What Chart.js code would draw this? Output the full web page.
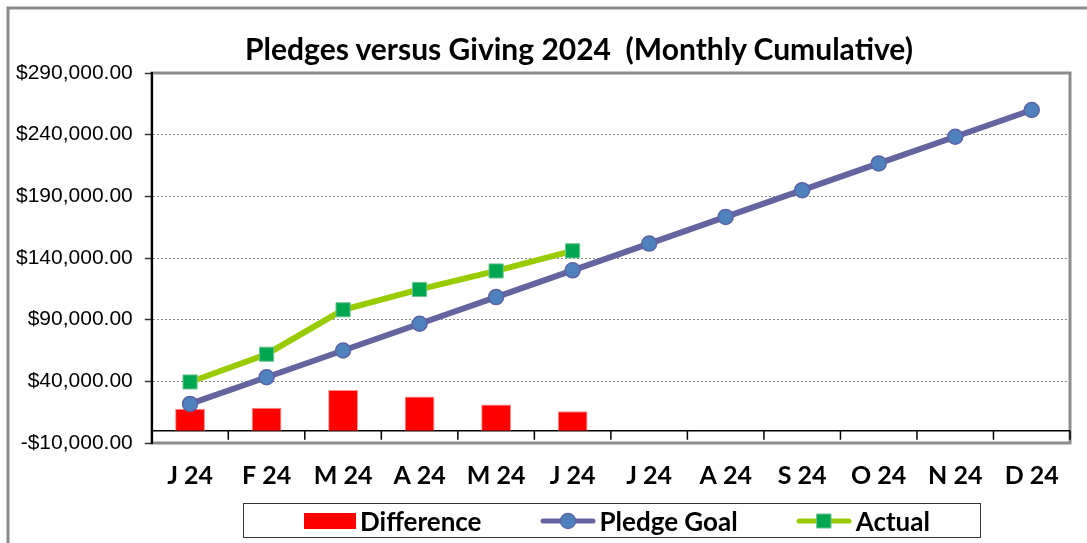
<!DOCTYPE html>
<html>
<head>
<meta charset="utf-8">
<script src="https://cdn.jsdelivr.net/npm/chart.js@4.4.1/dist/chart.umd.min.js"></script>
<style>
html,body{margin:0;padding:0;background:#fff;}
#wrap{position:relative;width:1087px;height:543px;overflow:hidden;}
#title{position:absolute;left:179px;width:800px;top:33px;text-align:center;font:bold 30px Lato;line-height:1;color:#000;white-space:pre;}
#legend{position:absolute;left:243px;top:503px;width:738px;height:35px;box-sizing:border-box;border:1.5px solid #333;
  display:flex;align-items:center;padding-left:60px;font:bold 26px Lato;color:#000;white-space:nowrap;}
.item{display:flex;align-items:center;margin-right:58px;flex-shrink:0;}
.item canvas{margin-right:4px;}
</style>
</head>
<body>
<div id="wrap">
<canvas id="givingChart" width="1087" height="543"></canvas>
<div id="title">Pledges versus Giving 2024  (Monthly Cumulative)</div>
<div id="legend"></div>
</div>
<script>

// months (category axis)
const months = ["J 24","F 24","M 24","A 24","M 24","J 24","J 24","A 24","S 24","O 24","N 24","D 24"];

// cumulative pledge goal
const pledgeGoal = [21667,43333,65000,86667,108333,130000,151667,173333,195000,216667,238333,260000];

// actual giving so far
const actual = [39500,62000,98000,114500,129500,145800];

// actual minus goal
const difference = [17800,18600,33000,27800,21200,15800];

// value axis
const yMin = -10000;
const yMax = 290000;
const yStep = 50000;

function money(v){
  const s = Math.abs(v).toLocaleString("en-US",{minimumFractionDigits:2,maximumFractionDigits:2});
  return (v<0?"-":"")+"$"+s;
}

// frame, plot border, zero line and category ticks
const framePlugin = {
  id:"frame",
  beforeDraw(chart){
    const ctx = chart.ctx;
    const a = chart.chartArea;
    ctx.save();
    ctx.strokeStyle="#8c8c8c";
    ctx.lineWidth=3;
    ctx.beginPath();
    ctx.moveTo(8,600);ctx.lineTo(8,8);ctx.lineTo(1200,8);
    ctx.stroke();
    ctx.strokeRect(a.left,a.top,a.right-a.left,a.bottom-a.top);
    ctx.restore();
  },
  beforeDatasetsDraw(chart){
    const ctx = chart.ctx;
    const a = chart.chartArea;
    const x = chart.scales.x;
    const y0 = chart.scales.y.getPixelForValue(0);
    const w = x.getPixelForValue(1)-x.getPixelForValue(0);
    ctx.save();
    ctx.strokeStyle="#000";
    ctx.lineWidth=1.5;
    ctx.beginPath();
    ctx.moveTo(a.left,y0);ctx.lineTo(a.right,y0);
    for(let i=0;i<=months.length;i++){
      const px = x.getPixelForValue(0)-w/2+i*w;
      ctx.moveTo(px,y0);ctx.lineTo(px,y0+9);
    }
    ctx.stroke();
    ctx.restore();
  }
};

const chart = new Chart(document.getElementById("givingChart"),{
  type:"bar",
  data:{
    labels:months,
    datasets:[
      {
        type:"bar",
        label:"Difference",
        data:difference,
        backgroundColor:"#ff0000",
        borderColor:"#ff8c8c",
        borderWidth:1,
        barPercentage:0.39,
        categoryPercentage:1,
        order:3
      },
      {
        type:"line",
        label:"Pledge Goal",
        data:pledgeGoal,
        borderColor:"#6464a0",
        borderWidth:6,
        tension:0,
        pointStyle:"circle",
        pointRadius:7.5,
        pointBackgroundColor:"#4f81bd",
        pointBorderColor:"#5a64a6",
        pointBorderWidth:1.5,
        order:2
      },
      {
        type:"line",
        label:"Actual",
        data:actual,
        borderColor:"#99cc00",
        borderWidth:6,
        tension:0,
        pointStyle:"rect",
        pointRadius:10,
        pointBackgroundColor:"#00a650",
        pointBorderColor:"#6cc48e",
        pointBorderWidth:1,
        order:1
      }
    ]
  },
  options:{
    responsive:false,
    animation:false,
    layout:{padding:{top:73,left:4,right:17,bottom:42}},
    plugins:{
      legend:{display:false},
      title:{display:false},
      tooltip:{enabled:false}
    },
    scales:{
      x:{
        offset:true,
        grid:{display:false},
        border:{display:false},
        ticks:{
          color:"#000",
          font:{family:"Lato",size:25,weight:"bold"},
          padding:10,
          maxRotation:0,
          autoSkip:false
        }
      },
      y:{
        min:yMin,
        max:yMax,
        grid:{
          color:c=>(c.tick && (c.tick.value===yMin||c.tick.value===yMax))?"rgba(0,0,0,0)":"#8a8a8a",
          lineWidth:1,
          tickLength:7,
          tickColor:"#333",
          tickWidth:1.5
        },
        border:{display:true,color:"#000",width:2,dash:[2,2]},
        ticks:{
          stepSize:yStep,
          color:"#000",
          padding:12,
          font:{family:"Liberation Sans",size:21},
          callback:v=>money(v)
        }
      }
    }
  },
  plugins:[framePlugin]
});

// html legend built from the datasets
const legendBox = document.getElementById("legend");
chart.data.datasets.forEach(ds=>{
  const item = document.createElement("div");
  item.className="item";
  const c = document.createElement("canvas");
  const g = c.getContext("2d");
  if(ds.type==="bar"){
    c.width=52;c.height=16;
    g.fillStyle=ds.backgroundColor;
    g.fillRect(0,0,52,16);
  }else{
    c.width=56;c.height=18;
    g.strokeStyle=ds.borderColor;
    g.lineWidth=5;
    g.lineCap="round";
    g.beginPath();g.moveTo(3,9);g.lineTo(53,9);g.stroke();
    g.fillStyle=ds.pointBackgroundColor;
    g.strokeStyle=ds.pointBorderColor;
    g.lineWidth=ds.pointBorderWidth;
    g.beginPath();
    if(ds.pointStyle==="circle") g.arc(28,9,7.5,0,Math.PI*2);
    else g.rect(21,2,14,14);
    g.fill();g.stroke();
  }
  const t = document.createElement("span");
  t.textContent=ds.label;
  item.appendChild(c);
  item.appendChild(t);
  legendBox.appendChild(item);
});
</script>
</body>
</html>
